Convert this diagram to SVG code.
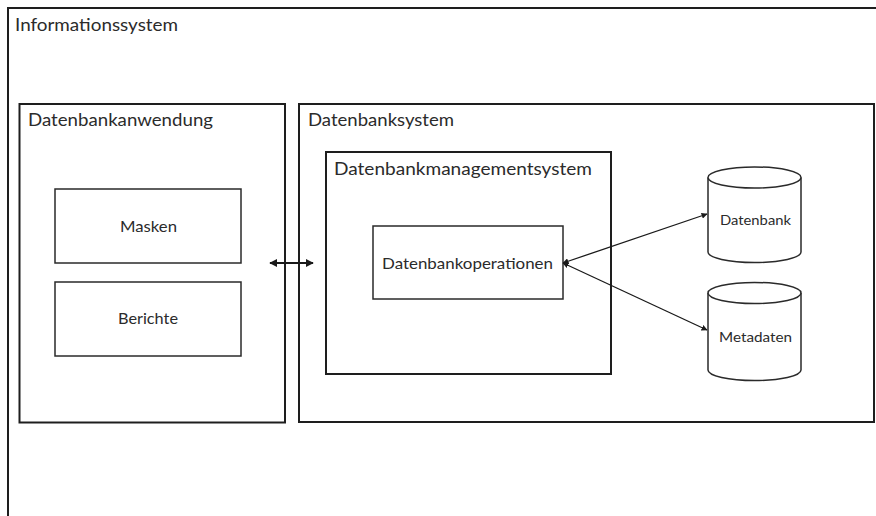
<svg xmlns="http://www.w3.org/2000/svg" width="876" height="516" viewBox="0 0 876 516">
  <style>
    .frame { fill: #ffffff; stroke: #1e1e1e; stroke-width: 2; }
    .box { fill: #ffffff; stroke: #2a2a2a; stroke-width: 1.5; }
    .lbl { font-family: Lato, "Liberation Sans", sans-serif; fill: #2b2b2b; }
    .title { font-size: 18px; }
    .inner { font-size: 16px; text-anchor: middle; }
    .small { font-size: 14px; text-anchor: middle; }
    .conn { fill: none; stroke: #1a1a1a; stroke-width: 1.3; }
    .thick { stroke-width: 2.2; }
  </style>
  <defs>
    <marker id="tip" viewBox="0 0 10 10" refX="9" refY="5" markerWidth="6" markerHeight="6" markerUnits="userSpaceOnUse" orient="auto-start-reverse">
      <path d="M0,0 L10,5 L0,10 z" fill="#1a1a1a"/>
    </marker>
    <marker id="tipBig" viewBox="0 0 10 10" refX="9" refY="5" markerWidth="8" markerHeight="8" markerUnits="userSpaceOnUse" orient="auto-start-reverse">
      <path d="M0,0 L10,5 L0,10 z" fill="#1a1a1a"/>
    </marker>
  </defs>

  <rect width="876" height="516" fill="#ffffff"/>

  <g id="informationssystem">
    <rect class="frame" x="8" y="8" width="880" height="520"/>
    <text class="lbl title" x="15" y="31" textLength="163" lengthAdjust="spacingAndGlyphs">Informationssystem</text>
  </g>

  <g id="datenbankanwendung">
    <rect class="frame" x="19.5" y="104" width="265.5" height="318.5"/>
    <text class="lbl title" x="28" y="126" textLength="185" lengthAdjust="spacingAndGlyphs">Datenbankanwendung</text>
  </g>

  <g id="masken">
    <rect class="box" x="55" y="189" width="186" height="74"/>
    <text class="lbl inner" x="148.5" y="232" textLength="57" lengthAdjust="spacingAndGlyphs">Masken</text>
  </g>

  <g id="berichte">
    <rect class="box" x="55" y="282" width="186" height="74"/>
    <text class="lbl inner" x="148" y="324" textLength="60" lengthAdjust="spacingAndGlyphs">Berichte</text>
  </g>

  <g id="datenbanksystem">
    <rect class="frame" x="299" y="104" width="575" height="318"/>
    <text class="lbl title" x="308" y="126" textLength="146" lengthAdjust="spacingAndGlyphs">Datenbanksystem</text>
  </g>

  <g id="datenbankmanagementsystem">
    <rect class="frame" x="326" y="152" width="285" height="222"/>
    <text class="lbl title" x="334" y="175" textLength="258" lengthAdjust="spacingAndGlyphs">Datenbankmanagementsystem</text>
  </g>

  <g id="datenbankoperationen">
    <rect class="box" x="373" y="226" width="190" height="73"/>
    <text class="lbl inner" x="467.5" y="269" textLength="171" lengthAdjust="spacingAndGlyphs">Datenbankoperationen</text>
  </g>

  <g id="datenbank">
    <path class="box" d="M708,177.5 V252 A46.5,10.5 0 0 0 801,252 V177.5"/>
    <ellipse class="box" cx="754.5" cy="177.5" rx="46.5" ry="10.5"/>
    <text class="lbl small" x="755.5" y="225" textLength="71" lengthAdjust="spacingAndGlyphs">Datenbank</text>
  </g>

  <g id="metadaten">
    <path class="box" d="M708,293 V370 A46.5,10.5 0 0 0 801,370 V293"/>
    <ellipse class="box" cx="754.5" cy="293" rx="46.5" ry="10.5"/>
    <text class="lbl small" x="755.5" y="342" textLength="73" lengthAdjust="spacingAndGlyphs">Metadaten</text>
  </g>

  <g id="connectors">
    <line class="conn thick" x1="270" y1="263" x2="313" y2="263" marker-start="url(#tipBig)" marker-end="url(#tipBig)"/>
    <line class="conn" x1="563" y1="263" x2="707" y2="214" marker-start="url(#tip)" marker-end="url(#tip)"/>
    <line class="conn" x1="563" y1="263" x2="707" y2="330" marker-start="url(#tip)" marker-end="url(#tip)"/>
  </g>
</svg>
